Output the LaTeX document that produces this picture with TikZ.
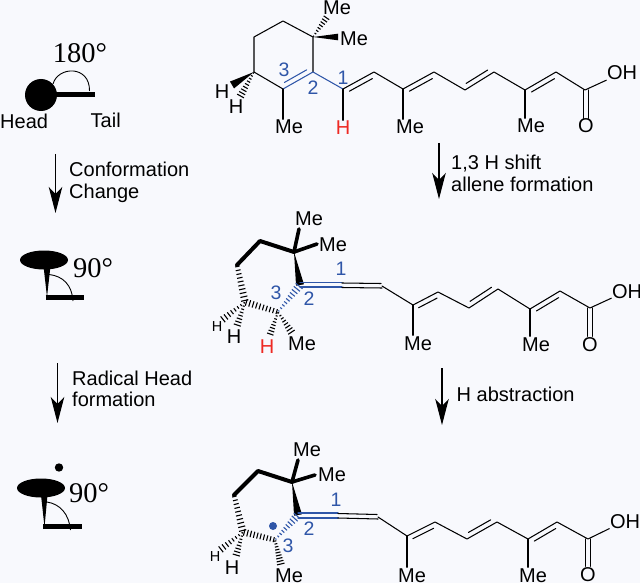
\documentclass[tikz,border=0pt]{standalone}
\usepackage{fontspec}
\setmainfont{Liberation Sans}
\newfontfamily\serifdeg{Liberation Serif}
\usetikzlibrary{calc,arrows.meta}
\definecolor{chemblue}{HTML}{2F56A8}
\definecolor{chemred}{HTML}{EE2A24}
\definecolor{pagebg}{HTML}{F8F9FD}
\tikzset{
  bond/.style={line width=1.05pt,black,line cap=round},
  bluebond/.style={line width=1.05pt,chemblue,line cap=round},
  boldbond/.style={line width=4pt,black,line cap=round,line join=round},
  thinarc/.style={line width=0.9pt,black},
  thicktail/.style={line width=4.4pt,black},
  txt/.style={inner sep=0.5pt,text height=14pt,text depth=0pt,font=\fontsize{20}{22}\selectfont},
  smalltxt/.style={inner sep=0.5pt,text height=10.5pt,text depth=0pt,font=\fontsize{14.5}{16}\selectfont},
  num/.style={inner sep=0pt,text height=13.5pt,text depth=0pt,text=chemblue,font=\fontsize{19.5}{21}\selectfont},
  redtxt/.style={txt,text=chemred},
  deg/.style={inner sep=0pt,font=\serifdeg\fontsize{28.5}{30}\selectfont},
  rarrow/.style={line width=1.1pt,black,-{Stealth[length=26pt,width=13.5pt,inset=7pt]}}
}
% second, shorter line of a double bond: off>0 lies to the left of a->b
\newcommand{\innerline}[4][bond]{%
  \coordinate (pp) at ($(#2)!.13!(#3)$);
  \coordinate (qq) at ($(#2)!.87!(#3)$);
  \draw[#1] ($(pp)!#4!90:(qq)$) -- ($(qq)!#4!-90:(pp)$);}
% hashed wedge from a to b, half widths w1 to w2
\newcommand{\hashw}[6][black]{%
  \foreach \ii in {0,...,#6}{%
    \pgfmathsetmacro{\hht}{0.04+0.92*\ii/#6}
    \pgfmathsetmacro{\hhw}{#4+(#5-#4)*\hht}
    \coordinate (hh) at ($(#2)!\hht!(#3)$);
    \draw[#1,line width=1.1pt] ($(hh)!\hhw pt!90:(#3)$) -- ($(hh)!\hhw pt!-90:(#3)$);
  }}
\newcommand{\wedgeb}[3]{%
  \fill[black] (#1) -- ($(#2)!#3!90:(#1)$) -- ($(#2)!#3!-90:(#1)$) -- cycle;}
\begin{document}
\begin{tikzpicture}[x=1pt,y=-1pt]
\useasboundingbox (0,0) rectangle (640,583);
\fill[pagebg] (0,0) rectangle (640,583);

%%% LEFT: cartoons
\node[deg] (deg180) at (80,53) {180°};
\fill[black] (41,95) circle (16);
\draw[thicktail] (41,94.5) -- (95,94.5);
\draw[thinarc] (53,84) .. controls (58,66) and (90,65) .. (89.5,91);
\node[txt,anchor=west] (head) at (-0.5,122) {Head};
\node[txt,anchor=west] (tail) at (90,121) {Tail};
\coordinate (a1s) at (55.5,154); \coordinate (a1e) at (55.5,213);
\draw[rarrow] (a1s) -- (a1e);
\node[txt,anchor=west] (conf1) at (68.5,169) {Conformation};
\node[txt,anchor=west] (conf2) at (68.5,191) {Change};

\fill[black] (44,260) ellipse (24 and 9.5);
\fill[black] (43.5,266) -- (50.5,266) -- (47,297) -- cycle;
\draw[thicktail] (45.5,297.5) -- (84,297.5);
\draw[thinarc] (49,274.5) .. controls (63,276) and (72,285) .. (73,301);
\node[deg] (deg90a) at (93,268) {90°};
\coordinate (a2s) at (57.5,363); \coordinate (a2e) at (57.5,423);
\draw[rarrow] (a2s) -- (a2e);
\node[txt,anchor=west] (rad1) at (71.5,378) {Radical Head};
\node[txt,anchor=west] (rad2) at (71.5,399) {formation};

\fill[black] (59,467.5) circle (4.2);
\fill[black] (41,488) ellipse (24 and 9.5);
\fill[black] (41,495) -- (47.5,495) -- (44.5,527) -- cycle;
\draw[thicktail] (43,526.5) -- (82,526.5);
\draw[thinarc] (47,502) .. controls (60,504) and (69,514) .. (70.5,530);
\node[deg] (deg90b) at (89,493) {90°};

%%% RIGHT ARROWS
\coordinate (a3s) at (439,143); \coordinate (a3e) at (439,199);
\draw[rarrow] (a3s) -- (a3e);
\node[txt,anchor=west] (sh1) at (450.5,163) {1,3 H shift};
\node[txt,anchor=west] (sh2) at (450.5,184) {allene formation};
\coordinate (a4s) at (442,368); \coordinate (a4e) at (442,425);
\draw[rarrow] (a4s) -- (a4e);
\node[txt,anchor=west] (hab) at (456,394) {H abstraction};

%%% MOLECULE 1
\coordinate (Aq) at (313,37); \coordinate (At) at (283,21); \coordinate (Aul) at (254,37);
\coordinate (All) at (254,72); \coordinate (Ac3) at (283,89); \coordinate (Ac2) at (313,72);
\coordinate (Ac1) at (343,89); \coordinate (Ad1) at (374,72); \coordinate (Ad2) at (403,89);
\coordinate (Ad3) at (434,72); \coordinate (Ad4) at (465,90); \coordinate (Ad5) at (494,72);
\coordinate (Ad6) at (525,90); \coordinate (Ad7) at (556,72); \coordinate (Ad8) at (585,90);
\node[txt] (Ame1) at (337,8) {Me};
\node[txt] (Ame2) at (354,39) {Me};
\node[txt] (Ah1) at (222,92) {H};
\node[txt] (Ah2) at (236,107) {H};
\node[txt] (Ame3) at (289,127) {Me};
\node[redtxt] (Ahr) at (343,128) {H};
\node[txt] (Ame4) at (410,127) {Me};
\node[txt] (Ame5) at (531,126) {Me};
\node[txt] (Aoh) at (622,73) {OH};
\node[txt] (Ao) at (586,126) {O};
\node[num] (An3) at (284,70) {3};
\node[num] (An2) at (313,88) {2};
\node[num] (An1) at (343,78) {1};
\draw[bond,line join=round] (All) -- (Aul) -- (At) -- (Aq) -- (Ac2);
\draw[bond] (All) -- (Ac3);
\draw[bluebond] (Ac3) -- (Ac2) -- (Ac1);
\innerline[bluebond]{Ac3}{Ac2}{5pt}
\draw[bond,line join=round] (Ac1) -- (Ad1) -- (Ad2) -- (Ad3) -- (Ad4) -- (Ad5) -- (Ad6) -- (Ad7) -- (Ad8) -- (Aoh);
\innerline{Ac1}{Ad1}{-5pt}
\innerline{Ad2}{Ad3}{-5pt}
\innerline{Ad4}{Ad5}{5pt}
\innerline{Ad6}{Ad7}{-5pt}
\draw[bond] (Ac3) -- (Ac3 |- Ame3.north);
\draw[bond] (Ac1) -- (Ac1 |- Ahr.north);
\draw[bond] (Ad2) -- (Ad2 |- Ame4.north);
\draw[bond] (Ad6) -- (Ad6 |- Ame5.north);
\draw[bond] (583.5,90) -- (583.5,90 |- Ao.north);
\draw[bond] (588.5,90) -- (588.5,90 |- Ao.north);
\coordinate (Awe) at (338,37);
\wedgeb{Aq}{Awe}{3.3pt}
\coordinate (Ahe) at (327,17);
\hashw{Aq}{Ahe}{0.5}{3.5}{7}
\coordinate (Awh) at (232,85);
\wedgeb{All}{Awh}{4pt}
\coordinate (Ahh) at (240,97);
\hashw{All}{Ahh}{0.5}{4}{8}

%%% MOLECULE 2
\coordinate (Bq) at (294,252); \coordinate (Bt) at (260,241); \coordinate (Bl) at (237,265);
\coordinate (Bll) at (245,302); \coordinate (Bc3) at (278,312); \coordinate (Bc2) at (300,285);
\coordinate (Bc1) at (342,285); \coordinate (Bd1) at (382,286); \coordinate (Bd2) at (413,305);
\coordinate (Bd3) at (438,292); \coordinate (Bd4) at (469,308); \coordinate (Bd5) at (498,289);
\coordinate (Bd6) at (530,309); \coordinate (Bd7) at (560,291); \coordinate (Bd8) at (590,308);
\node[txt] (Bme1) at (309,218) {Me};
\node[txt] (Bme2) at (333,244) {Me};
\node[redtxt] (Bhr) at (267,346) {H};
\node[txt] (Bme3) at (302,343) {Me};
\node[txt] (Bh1) at (234,336) {H};
\node[smalltxt] (Bh2) at (217,326) {H};
\node[txt] (Bme4) at (418,343) {Me};
\node[txt] (Bme5) at (536,344) {Me};
\node[txt] (Boh) at (627,291) {OH};
\node[txt] (Bo) at (590,344) {O};
\node[num] (Bn1) at (341,269) {1};
\node[num] (Bn3) at (276,293) {3};
\node[num] (Bn2) at (309,299) {2};
\draw[boldbond] (Bl) -- (Bt) -- (Bq);
\coordinate (Bmt) at (299,229); \coordinate (Bmr) at (317,244);
\draw[boldbond,line width=3.6pt] (Bq) -- (Bmt);
\draw[boldbond,line width=3.6pt] (Bq) -- (Bmr);
\wedgeb{Bq}{Bc2}{4pt}
\hashw{Bl}{Bll}{2.2}{3.8}{9}
\hashw{Bll}{Bc3}{3.5}{2.5}{9}
\hashw[chemblue]{Bc3}{Bc2}{0.5}{4.5}{9}
\coordinate (Bh1e) at (222,320); \coordinate (Bh2e) at (237,326);
\coordinate (Bhre) at (270,335); \coordinate (Bmee) at (292,333);
\hashw{Bll}{Bh1e}{0.5}{3.8}{7}
\hashw{Bll}{Bh2e}{0.5}{3.8}{7}
\hashw{Bc3}{Bhre}{0.5}{3.5}{7}
\hashw{Bc3}{Bmee}{0.5}{4}{7}
\draw[bluebond] (300,282.5) -- (342,282.5);
\draw[bluebond] (300,287) -- (342,287);
\draw[bond] (342,283) -- (381,283.5);
\draw[bond] (342,287.5) -- (382,288);
\draw[bond,line join=round] (Bd1) -- (Bd2) -- (Bd3) -- (Bd4) -- (Bd5) -- (Bd6) -- (Bd7) -- (Bd8) -- (Boh);
\innerline{Bd2}{Bd3}{-5pt}
\innerline{Bd4}{Bd5}{5pt}
\innerline{Bd6}{Bd7}{-5pt}
\draw[bond] (Bd2) -- (Bd2 |- Bme4.north);
\draw[bond] (Bd6) -- (Bd6 |- Bme5.north);
\draw[bond] (587.5,308) -- (587.5,308 |- Bo.north);
\draw[bond] (592.5,308) -- (592.5,308 |- Bo.north);

%%% MOLECULE 3
\coordinate (Cq) at (292,482); \coordinate (Ct) at (258,471); \coordinate (Cl) at (234,495);
\coordinate (Cll) at (243,532); \coordinate (Cc3) at (275,540); \coordinate (Cc2) at (298,515);
\coordinate (Cc1) at (338,516); \coordinate (Cd1) at (378,517); \coordinate (Cd2) at (407,536);
\coordinate (Cd3) at (435,522); \coordinate (Cd4) at (467,539); \coordinate (Cd5) at (497,522);
\coordinate (Cd6) at (528,539); \coordinate (Cd7) at (557,522); \coordinate (Cd8) at (588,539);
\node[txt] (Cme1) at (307,449) {Me};
\node[txt] (Cme2) at (332,474) {Me};
\node[txt] (Ch1) at (232,567) {H};
\node[smalltxt] (Ch2) at (215,556) {H};
\node[txt] (Cme3) at (289,575) {Me};
\node[txt] (Cme4) at (412,575) {Me};
\node[txt] (Cme5) at (533,575) {Me};
\node[txt] (Coh) at (625,521) {OH};
\node[txt] (Co) at (588,574) {O};
\node[num] (Cn1) at (336,500) {1};
\node[num] (Cn2) at (309,529) {2};
\node[num] (Cn3) at (288,546) {3};
\fill[chemblue] (273,526) circle (4);
\draw[boldbond] (Cl) -- (Ct) -- (Cq);
\coordinate (Cmt) at (298,460); \coordinate (Cmr) at (315,475);
\draw[boldbond,line width=3.6pt] (Cq) -- (Cmt);
\draw[boldbond,line width=3.6pt] (Cq) -- (Cmr);
\wedgeb{Cq}{Cc2}{4pt}
\hashw{Cl}{Cll}{2.2}{3.8}{9}
\hashw{Cll}{Cc3}{3.5}{2.5}{9}
\hashw[chemblue]{Cc3}{Cc2}{0.5}{4.5}{9}
\coordinate (Ch1e) at (220,550); \coordinate (Ch2e) at (236,556); \coordinate (Cmee) at (281,565);
\hashw{Cll}{Ch1e}{0.5}{3.8}{7}
\hashw{Cll}{Ch2e}{0.5}{3.8}{7}
\hashw{Cc3}{Cmee}{1}{4}{8}
\draw[bluebond] (298,513) -- (338,513);
\draw[bluebond] (298,518) -- (338,518);
\draw[bond] (338,513.5) -- (377,514.5);
\draw[bond] (338,518) -- (378,519);
\draw[bond,line join=round] (Cd1) -- (Cd2) -- (Cd3) -- (Cd4) -- (Cd5) -- (Cd6) -- (Cd7) -- (Cd8) -- (Coh);
\innerline{Cd2}{Cd3}{-5pt}
\innerline{Cd4}{Cd5}{5pt}
\innerline{Cd6}{Cd7}{-5pt}
\draw[bond] (Cd2) -- (Cd2 |- Cme4.north);
\draw[bond] (Cd6) -- (Cd6 |- Cme5.north);
\draw[bond] (585.5,539) -- (585.5,539 |- Co.north);
\draw[bond] (590.5,539) -- (590.5,539 |- Co.north);
\end{tikzpicture}
\end{document}
